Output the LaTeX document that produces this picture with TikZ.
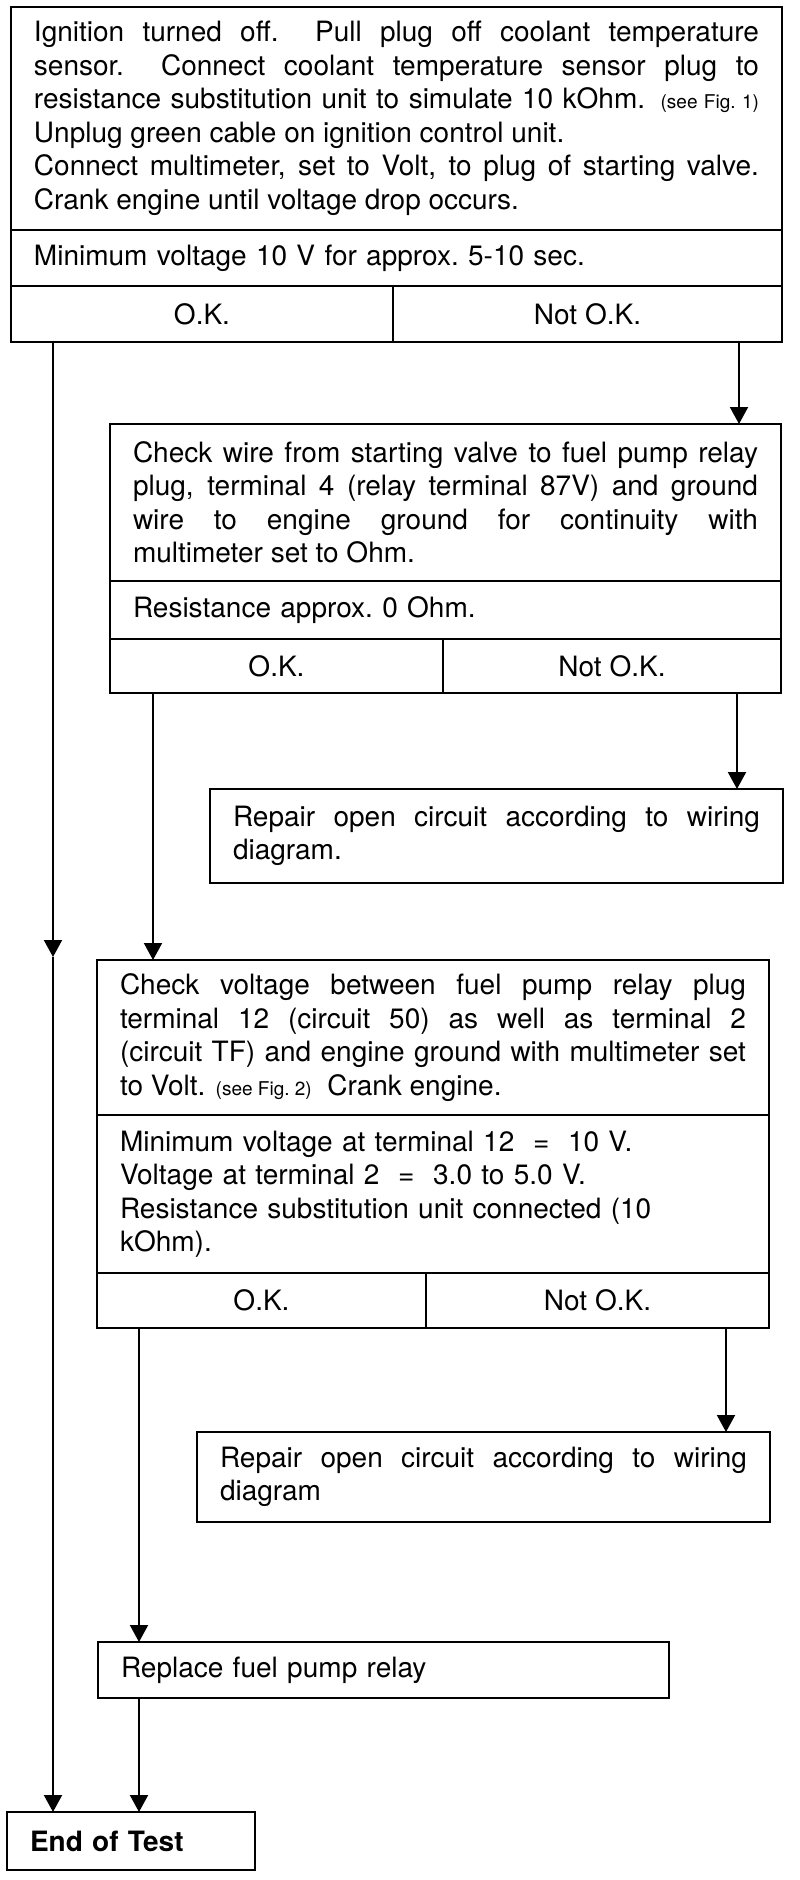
\documentclass[tikz,border=0pt]{standalone}
\usepackage{fontspec}
\setmainfont{TeX Gyre Heros}
\usetikzlibrary{arrows.meta, positioning, calc}
\newcommand{\seefig}[1]{{\fontsize{19}{20}\selectfont(see Fig.~#1)}}
\tikzset{
  box/.style  = {draw, line width=2.4pt, inner xsep=23pt, inner ysep=0pt,
                 outer sep=0pt, anchor=north west, align=justify,
                 font=\fontsize{28}{33.5}\selectfont},
  cond/.style = {box, align=left},
  cell/.style = {draw, line width=2.4pt, inner sep=0pt, outer sep=0pt,
                 align=center, font=\fontsize{28}{33.5}\selectfont},
  sig/.style  = {-{Triangle[length=17pt, width=18pt]}, line width=2pt},
}

\begin{document}
\begin{tikzpicture}[x=1pt, y=-1pt]
  \useasboundingbox (0,0) rectangle (800,1880);

  \node[box, text width=725pt, minimum height=223pt] (ign) at (11,7)
    {Ignition turned off.\ \ Pull plug off coolant temperature\linebreak
     sensor.\ \ Connect coolant temperature sensor plug to\linebreak
     resistance substitution unit to simulate 10 kOhm. \seefig{1}\linebreak
     Unplug green cable on ignition control unit.\newline
     Connect multimeter, set to Volt, to plug of starting valve.\linebreak
     Crank engine until voltage drop occurs.};
  \node[cond, text width=725pt, minimum height=56pt, below=0pt of ign] (ign-c)
    {Minimum voltage 10 V for approx.\ 5-10 sec.};
  \node[cell, minimum width=382pt, minimum height=56pt, anchor=north west] (ign-ok) at (ign-c.south west) {O.K.};
  \node[cell, minimum width=389pt, minimum height=56pt, anchor=north east] (ign-nok) at (ign-c.south east) {Not O.K.};

  \node[box, text width=625pt, minimum height=157pt] (wire) at (110,424)
    {Check wire from starting valve to fuel pump relay\linebreak
     plug, terminal 4 (relay terminal 87V) and ground\linebreak
     wire to engine ground for continuity with\linebreak
     multimeter set to Ohm.};
  \node[cond, text width=625pt, minimum height=58pt, below=0pt of wire] (wire-c)
    {Resistance approx.\ 0 Ohm.};
  \node[cell, minimum width=333pt, minimum height=54pt, anchor=north west] (wire-ok) at (wire-c.south west) {O.K.};
  \node[cell, minimum width=338pt, minimum height=54pt, anchor=north east] (wire-nok) at (wire-c.south east) {Not O.K.};

  \node[box, text width=527pt, minimum height=94pt] (rep1) at (210,789)
    {Repair open circuit according to wiring\linebreak diagram.};

  \node[box, text width=626pt, minimum height=155pt] (volt) at (97,960)
    {Check voltage between fuel pump relay plug\linebreak
     terminal 12 (circuit 50) as well as terminal 2\linebreak
     (circuit TF) and engine ground with multimeter set\linebreak
     to Volt. \seefig{2}\ \ Crank engine.};
  \node[cond, text width=626pt, minimum height=158pt, below=0pt of volt] (volt-c)
    {Minimum voltage at terminal 12 \ = \ 10 V.\\
     Voltage at terminal 2 \ = \ 3.0 to 5.0 V.\\
     Resistance substitution unit connected (10\\
     kOhm).};
  \node[cell, minimum width=329pt, minimum height=55pt, anchor=north west] (volt-ok) at (volt-c.south west) {O.K.};
  \node[cell, minimum width=343pt, minimum height=55pt, anchor=north east] (volt-nok) at (volt-c.south east) {Not O.K.};

  \node[box, text width=527pt, minimum height=90pt] (rep2) at (197,1432)
    {Repair open circuit according to wiring\linebreak diagram};

  \node[cond, text width=525pt, minimum height=56pt] (relay) at (98,1642)
    {Replace fuel pump relay};

  \node[cond, text width=202pt, minimum height=58pt, font=\fontsize{28}{33.5}\selectfont\bfseries] (end) at (7,1812)
    {End of Test};

  \coordinate (lane0) at (53,957);
  \coordinate (lane1) at (739,0);
  \coordinate (lane2) at (153,0);
  \coordinate (lane3) at (737,0);
  \coordinate (lane4) at (139,0);
  \coordinate (lane5) at (726,0);

  \draw[sig] (ign-ok.south -| lane0) -- (lane0);
  \draw[sig] (lane0) -- (lane0 |- end.north);
  \draw[sig] (ign-nok.south -| lane1) -- (lane1 |- wire.north);
  \draw[sig] (wire-ok.south -| lane2) -- (lane2 |- volt.north);
  \draw[sig] (wire-nok.south -| lane3) -- (lane3 |- rep1.north);
  \draw[sig] (volt-ok.south -| lane4) -- (lane4 |- relay.north);
  \draw[sig] (volt-nok.south -| lane5) -- (lane5 |- rep2.north);
  \draw[sig] (relay.south -| lane4) -- (lane4 |- end.north);
\end{tikzpicture}
\end{document}
